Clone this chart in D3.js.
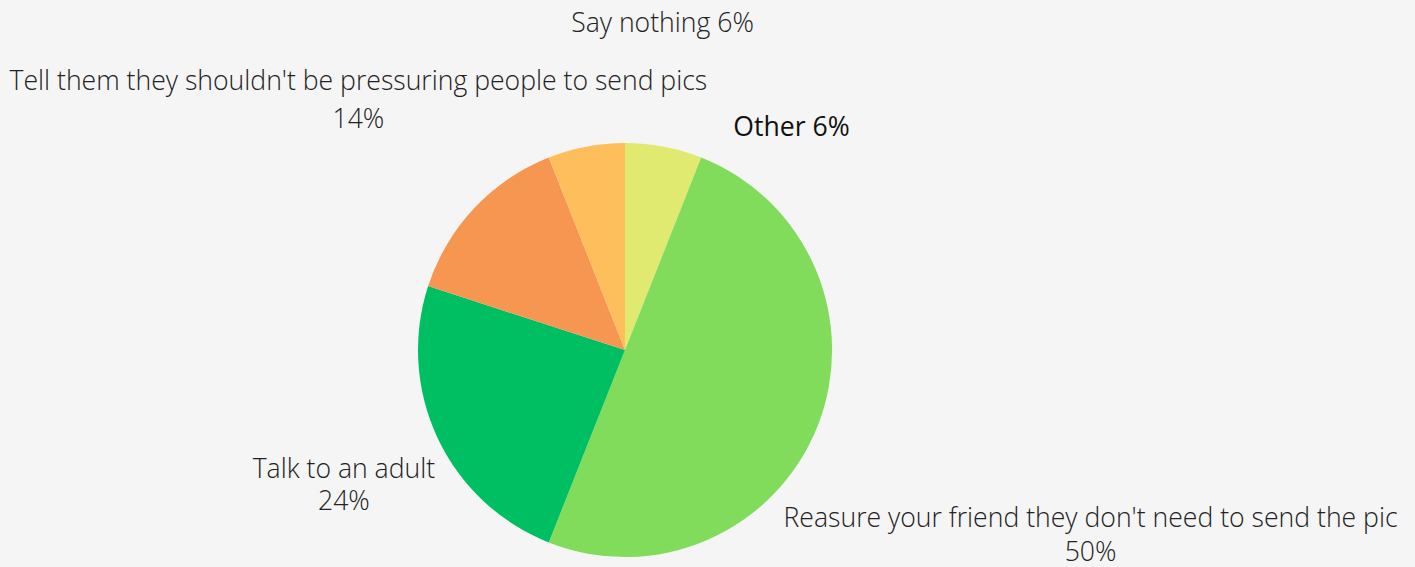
<!DOCTYPE html>
<html>
<head>
<meta charset="utf-8">
<script src="https://cdn.jsdelivr.net/npm/d3@7"></script>
<style>
  html, body { margin: 0; padding: 0; background: #f5f5f5; }
  svg { display: block; }
</style>
</head>
<body>
<svg id="chart" width="1415" height="567"></svg>
<script>
// Survey answers, in drawing order clockwise from 12 o'clock
const categories = [
  "Other",
  "Reasure your friend they don't need to send the pic",
  "Talk to an adult",
  "Tell them they shouldn't be pressuring people to send pics",
  "Say nothing"
];
const shares = [6, 50, 24, 14, 6];
const sliceColors = ["#e0ea70", "#80dc5a", "#00bf63", "#f79651", "#ffbe5c"];

// How each label is broken into lines
const labelLines = [
  ["Other 6%"],
  ["Reasure your friend they don't need to send the pic", "50%"],
  ["Talk to an adult", "24%"],
  ["Tell them they shouldn't be pressuring people to send pics", "14%"],
  ["Say nothing 6%"]
];

const width = 1415, height = 567;
const cx = 625, cy = 350, radius = 207;

const svg = d3.select("#chart");
svg.append("rect").attr("width", width).attr("height", height).attr("fill", "#f5f5f5");

const data = categories.map((c, i) => ({ name: c, value: shares[i], color: sliceColors[i], lines: labelLines[i] }));

const pie = d3.pie().value(d => d.value).sort(null);
const arc = d3.arc().innerRadius(0).outerRadius(radius);
const arcs = pie(data);

const g = svg.append("g").attr("transform", `translate(${cx},${cy})`);

g.selectAll("path.slice")
  .data(arcs)
  .join("path")
  .attr("class", "slice")
  .attr("d", arc)
  .attr("fill", d => d.data.color);

// Labels sit outside the pie, anchored on an outer ring at each slice's mid-angle
const labelArc = d3.arc().innerRadius(radius * 1.25).outerRadius(radius * 1.25);
const labelNudge = [
  { dx: 118, dy: 40, lh: 0 },
  { dx: 225, dy: 82, lh: 34 },
  { dx: -47, dy: 18, lh: 32 },
  { dx: -78, dy: -83, lh: 38 },
  { dx: 86, dy: -64, lh: 0 }
];

const labels = g.selectAll("text.label")
  .data(arcs)
  .join("text")
  .attr("class", "label")
  .attr("text-anchor", "middle")
  .attr("font-family", "'Open Sans', sans-serif")
  .attr("font-size", 26.6)
  .attr("font-weight", (d, i) => i === 0 ? 400 : 300)
  .attr("fill", (d, i) => i === 0 ? "#111" : "#222")
  .attr("transform", (d, i) => {
    const [x, y] = labelArc.centroid(d);
    return `translate(${x + labelNudge[i].dx},${y + labelNudge[i].dy})`;
  });

labels.each(function(d, i) {
  d3.select(this).selectAll("tspan")
    .data(d.data.lines)
    .join("tspan")
    .attr("x", 0)
    .attr("y", (t, j) => j * labelNudge[i].lh)
    .text(t => t);
});
</script>
</body>
</html>
